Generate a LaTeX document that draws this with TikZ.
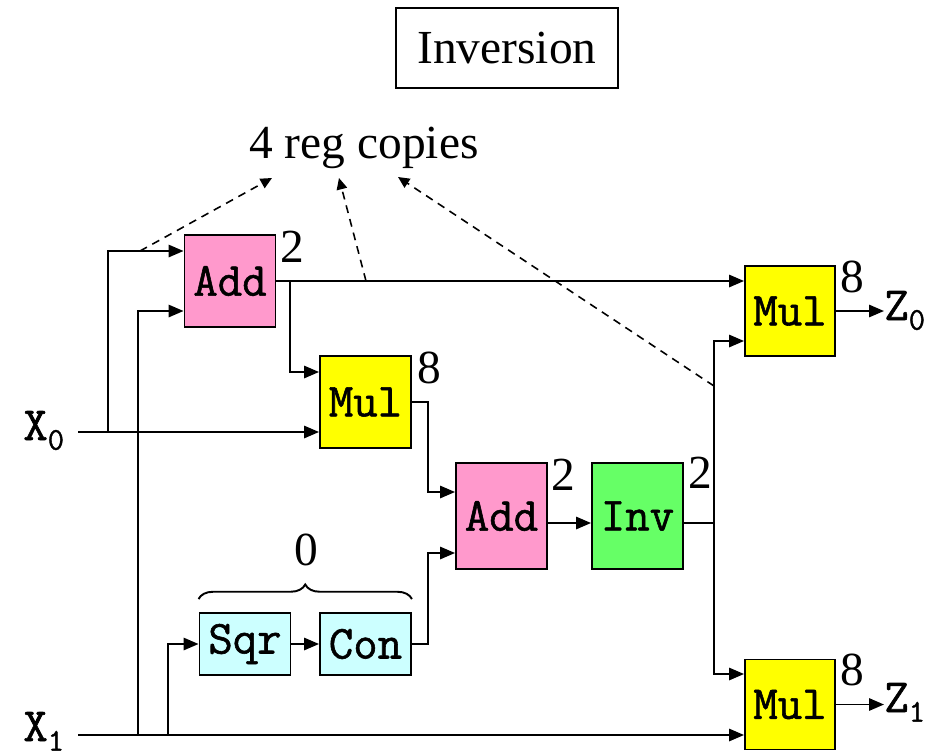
\documentclass[tikz,border=0pt]{standalone}
\usepackage{fontspec}
\setmainfont{Liberation Serif}
\newfontfamily\unitfont{Latin Modern Mono}[FakeBold=1.2]
\usetikzlibrary{positioning}
\usetikzlibrary{calc}
\usetikzlibrary{arrows.meta}
\usetikzlibrary{decorations.pathreplacing}

\definecolor{addpink}{RGB}{255,153,204}
\definecolor{mulyellow}{RGB}{255,255,0}
\definecolor{invgreen}{RGB}{102,255,102}
\definecolor{sqrcyan}{RGB}{204,255,255}

\newcommand{\lowsub}[1]{\raisebox{-5.5pt}{\fontsize{18}{18}\selectfont #1}}

\tikzset{
    unit/.style    = {draw, line width=1.1pt, inner sep=0pt, font=\unitfont\bfseries\fontsize{27}{30}\selectfont},
    addunit/.style = {unit, fill=addpink,   minimum width=1.82cm, minimum height=1.84cm},
    mulunit/.style = {unit, fill=mulyellow, minimum width=1.82cm, minimum height=1.84cm},
    invunit/.style = {unit, fill=invgreen,  minimum width=1.82cm, minimum height=2.12cm},
    sqrunit/.style = {unit, fill=sqrcyan,   minimum width=1.82cm, minimum height=1.24cm},
    txt/.style     = {inner sep=0pt, font=\fontsize{27}{30}\selectfont},
    port/.style    = {txt, anchor=base west, font=\unitfont\bfseries\fontsize{27}{30}\selectfont},
    wire/.style    = {line width=1.1pt, -{Triangle[length=8.5pt,width=7pt]}},
    copyline/.style= {line width=0.9pt, dash pattern=on 4.5pt off 3.5pt, -{Triangle[length=6.5pt,width=6pt]}}
}

\begin{document}
\begin{tikzpicture}[x=0.02cm, y=-0.02cm]
    \useasboundingbox (0,0) rectangle (934,755);

    \node[txt, draw, line width=0.8pt, minimum width=4.44cm, minimum height=1.6cm] at (507,48) (Title) {Inversion};
    \node[txt, anchor=base] at (364,158) (Copies) {4 reg copies};

    \node[addunit]                       at (230,281)   (Add1) {Add};
    \node[mulunit]                       at (365.5,402) (Mul1) {Mul};
    \node[addunit, minimum height=2.12cm] at (501.5,516) (Add2) {Add};
    \node[invunit]                       at (637.5,516) (Inv)  {Inv};
    \node[mulunit, minimum width=1.8cm, minimum height=1.8cm] at (790,311)   (Mul2) {Mul};
    \node[mulunit, minimum width=1.8cm, minimum height=1.8cm] at (790,704.5) (Mul3) {Mul};
    \node[sqrunit]                       at (245,644)   (Sqr)  {Sqr};
    \node[sqrunit]                       at (365.5,644) (Con)  {Con};

    % delays
    \node[txt, anchor=base west] at (280,262) (dAdd1) {2};
    \node[txt, anchor=base west] at (417,383) (dMul1) {8};
    \node[txt, anchor=base west] at (551,490) (dAdd2) {2};
    \node[txt, anchor=base west] at (688,488) (dInv)  {2};
    \node[txt, anchor=base west] at (840,292) (dMul2) {8};
    \node[txt, anchor=base west] at (840,685) (dMul3) {8};
    \node[txt, anchor=base]      at (306,565) (dSqr)  {0};

    % inputs and outputs
    \node[port] at (23,440) (X0) {X\lowsub{0}};
    \node[port] at (23,741) (X1) {X\lowsub{1}};
    \node[port] at (884,320) (Z0) {Z\lowsub{0}};
    \node[port] at (884,712) (Z1) {Z\lowsub{1}};

    \coordinate (in0) at (78,432);
    \coordinate (in1) at (78,735);
    \coordinate (br0) at (108,432);
    \coordinate (br1) at (138,735);
    \coordinate (br2) at (168,735);
    \coordinate (br3) at (290,281);
    \coordinate (br4) at (714,523);

    \draw [wire] (in0) -- ($(Mul1.west)+(0,30)$);
    \draw [wire] (br0) |- ($(Add1.west)+(0,-30)$);
    \draw [wire] (in1) -- ($(Mul3.west)+(0,30.5)$);
    \draw [wire] (br1) |- ($(Add1.west)+(0,30)$);
    \draw [wire] (br2) |- (Sqr.west);

    \draw [wire] (Add1.east) -- ($(Mul2.west)+(0,-30)$);
    \draw [wire] (br3) |- ($(Mul1.west)+(0,-30)$);
    \draw [wire] (Mul1.east) -- ++(16,0) |- ($(Add2.west)+(0,-24)$);
    \draw [wire] (Sqr) -- (Con);
    \draw [wire] (Con.east) -- ++(16,0) |- ($(Add2.west)+(0,37)$);
    \draw [wire] ($(Add2.east)+(0,7)$) -- ($(Inv.west)+(0,7)$);
    \draw [line width=1.1pt] ($(Inv.east)+(0,7)$) -- (br4);
    \draw [wire] (br4) |- ($(Mul2.west)+(0,30)$);
    \draw [wire] (br4) |- ($(Mul3.west)+(0,-30.5)$);
    \draw [wire] (Mul2.east) -- (Mul2.east -| Z0.west);
    \draw [wire] (Mul3.east) -- (Mul3.east -| Z1.west);

    \draw [line width=1.1pt, decorate, decoration={brace, amplitude=8.3pt}]
        ($(Sqr.north west)+(0,-13)$) -- ($(Con.north east)+(0,-13)$);

    % register copies
    \coordinate (cp1) at (140,251);
    \coordinate (cp2) at (366,281);
    \coordinate (cp3) at (714,386);
    \draw [copyline] (cp1) -- (272,178);
    \draw [copyline] (cp2) -- (339,178);
    \draw [copyline] (cp3) -- (398,177);
\end{tikzpicture}
\end{document}
